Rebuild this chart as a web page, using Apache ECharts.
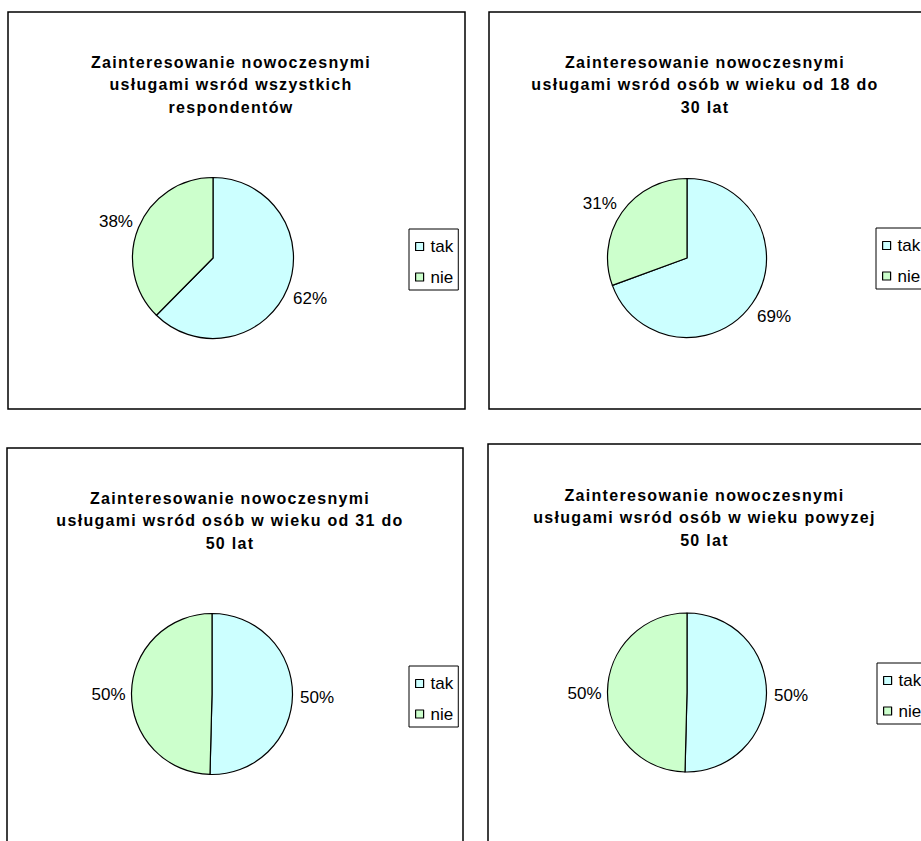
<!DOCTYPE html>
<html><head><meta charset="utf-8">
<script src="https://cdn.jsdelivr.net/npm/echarts@6/dist/echarts.min.js"></script>
<style>
html,body{margin:0;padding:0;background:#fff;}
#c{width:921px;height:841px;}
#c svg text[style*="bold"], #c svg text[font-weight="bold"]{letter-spacing:1.3px;}
</style></head><body><div id="c"></div>
<script>
const categories = ['tak', 'nie'];
const titles = [
  'Zainteresowanie nowoczesnymi\nusługami wsród wszystkich\nrespondentów',
  'Zainteresowanie nowoczesnymi\nusługami wsród osób w wieku od 18 do\n30 lat',
  'Zainteresowanie nowoczesnymi\nusługami wsród osób w wieku od 31 do\n50 lat',
  'Zainteresowanie nowoczesnymi\nusługami wsród osób w wieku powyzej\n50 lat'
];
const takValues = [62.4, 69.4, 50.4, 50.4];
const nieValues = [37.6, 30.6, 49.6, 49.6];
const sliceColors = ['#CCFFFF', '#CCFFCC'];

const FONT = '"Liberation Sans", Arial, sans-serif';
const panels = [
  {x: 8,   y: 12,  w: 457, h: 397, cx: 213, cy: 258,   r: 80.5, tx: 231,   ty: 50.8, lx: 409, ly: 229},
  {x: 489, y: 12,  w: 460, h: 397, cx: 687, cy: 258,   r: 79.5, tx: 705,   ty: 51,   lx: 876, ly: 228},
  {x: 7,   y: 448, w: 456, h: 420, cx: 212, cy: 694,   r: 80.5, tx: 230,   ty: 487,  lx: 409, ly: 666},
  {x: 488, y: 444, w: 460, h: 420, cx: 687, cy: 692.5, r: 79.5, tx: 704.5, ty: 483.8, lx: 877, ly: 663}
];

// label nudge depending on the slice's mid angle (Excel puts labels a bit further from the pie vertically)
function labelOffset(values, j) {
  const total = values.reduce((a, b) => a + b, 0);
  let cum = 0;
  for (let k = 0; k < j; k++) cum += values[k];
  const mid = (cum + values[j] / 2) / total;
  const theta = (90 - mid * 360) * Math.PI / 180;
  const dx = Math.cos(theta);
  return [dx > 0.99 ? 1.5 : 0, 2 - 14 * Math.sin(theta)];
}

const chart = echarts.init(document.getElementById('c'), null, {renderer: 'svg'});
const option = {
  animation: false,
  backgroundColor: '#fff',
  color: sliceColors,
  graphic: panels.map(p => ({
    type: 'rect', silent: true, z: -1,
    shape: {x: p.x, y: p.y, width: p.w, height: p.h},
    style: {fill: 'none', stroke: '#000', lineWidth: 1.5}
  })),
  title: panels.map((p, i) => ({
    text: titles[i], left: p.tx, top: p.ty, textAlign: 'center', padding: 0,
    textStyle: {fontFamily: FONT, fontWeight: 'bold', fontSize: 16, lineHeight: 22.5, color: '#000'}
  })),
  legend: panels.map(p => ({
    orient: 'vertical', left: p.lx, top: p.ly, data: categories, icon: 'rect',
    itemWidth: 8, itemHeight: 8, itemGap: 13.5, selectedMode: false,
    borderColor: '#000', borderWidth: 1, padding: [9, 5, 4.5, 6],
    textStyle: {fontFamily: FONT, fontSize: 17, color: '#000', lineHeight: 16, padding: [0, 0, 0, 2]},
    itemStyle: {borderColor: '#000', borderWidth: 1.2}
  })),
  series: panels.map((p, i) => {
    const vals = [takValues[i], nieValues[i]];
    return {
      type: 'pie', center: [p.cx, p.cy], radius: p.r, startAngle: 90, clockwise: true,
      avoidLabelOverlap: false, silent: true,
      data: categories.map((n, j) => ({
        name: n, value: vals[j],
        label: {offset: labelOffset(vals, j)}
      })),
      itemStyle: {borderColor: '#000', borderWidth: 1.2},
      label: {show: true, position: 'outside', formatter: q => Math.round(q.percent) + '%',
        fontFamily: FONT, fontSize: 17, color: '#000', distanceToLabelLine: 0},
      labelLine: {show: false, length: 6, length2: 0},
      emphasis: {disabled: true}
    };
  })
};
chart.setOption(option);
</script></body></html>
